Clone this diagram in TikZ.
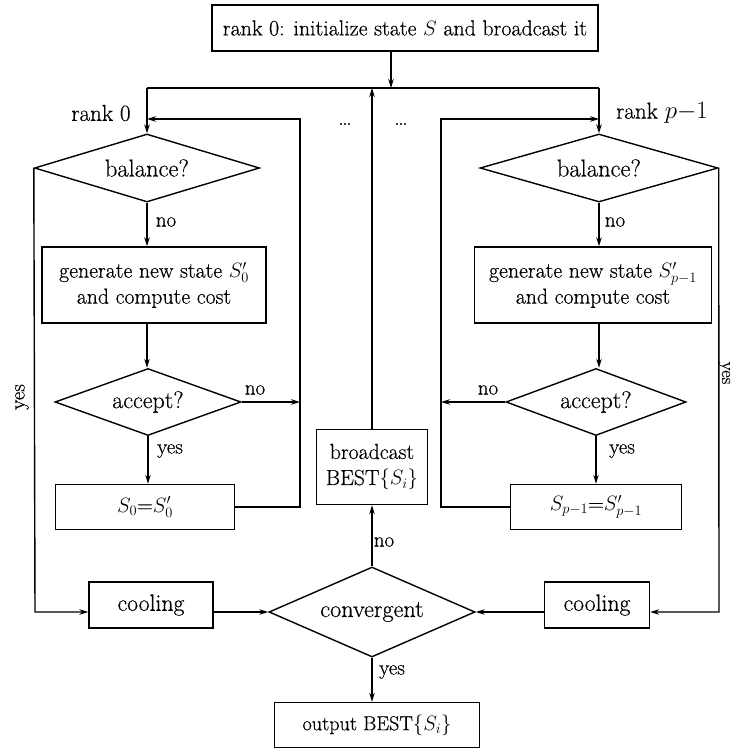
\documentclass[tikz,border=0pt]{standalone}
\usepackage{fontspec}
\setmainfont{Latin Modern Roman}[UprightFeatures={FakeBold=0.45}]
\usetikzlibrary{shapes.geometric,arrows.meta}
\begin{document}
\begin{tikzpicture}[x=1pt,y=-1pt,
  font=\fontsize{21}{25}\selectfont,
  line width=1.4pt,
  box/.style={draw,rectangle,inner sep=0pt,align=center},
  dia/.style={draw,diamond,inner sep=0pt},
  arr/.style={-{Stealth[length=9pt,width=5.5pt]}},
  lbl/.style={inner sep=0pt}]
\useasboundingbox (0,0) rectangle (737,750);
% nodes
\node[box,minimum width=386pt,minimum height=46pt,font=\fontsize{21.9}{26}\selectfont] (top) at (405,28) {rank 0: initialize state $S$ and broadcast it};
\node[dia,shape aspect=3.3,minimum width=225pt,minimum height=68pt,font=\fontsize{24.5}{28}\selectfont] (bal0) at (147,168) {balance?};
\node[dia,shape aspect=3.4,minimum width=238pt,minimum height=68pt,font=\fontsize{24.5}{28}\selectfont] (bal1) at (599,168) {balance?};
\node[box,minimum width=224pt,minimum height=76pt,font=\fontsize{21.8}{26}\selectfont] (gen0) at (154,285) {generate new state $S'_0$\\and compute cost};
\node[box,minimum width=237pt,minimum height=76pt,font=\fontsize{21.8}{26}\selectfont] (gen1) at (593,285) {generate new state $S'_{p-1}$\\and compute cost};
\node[dia,shape aspect=2.8,minimum width=186pt,minimum height=67pt,font=\fontsize{24}{28}\selectfont] (acc0) at (148,402) {accept?};
\node[dia,shape aspect=2.7,minimum width=180pt,minimum height=67pt,font=\fontsize{24}{28}\selectfont] (acc1) at (596,402) {accept?};
\node[box,minimum width=179pt,minimum height=45pt,font=\fontsize{21.8}{25}\selectfont] (s0) at (145,507) {$S_0$=$S'_0$};
\node[box,minimum width=171pt,minimum height=45pt,font=\fontsize{21.8}{25}\selectfont] (s1) at (596,507) {$S_{p-1}$=$S'_{p-1}$};
\node[box,minimum width=111pt,minimum height=75pt,font=\fontsize{21.8}{26}\selectfont] (bc) at (372,467) {broadcast\\BEST$\{S_i\}$};
\node[box,minimum width=124pt,minimum height=46pt,font=\fontsize{23.7}{27}\selectfont] (cool0) at (151,605) {cooling};
\node[dia,shape aspect=2.3,minimum width=206pt,minimum height=90pt,font=\fontsize{24.2}{28}\selectfont] (conv) at (372,612) {convergent};
\node[box,minimum width=105pt,minimum height=46pt,font=\fontsize{23.7}{27}\selectfont] (cool1) at (597,605) {cooling};
\node[box,minimum width=205pt,minimum height=45pt,font=\fontsize{20.2}{24}\selectfont] (out) at (377,725) {output BEST$\{S_i\}$};
% coordinates
\coordinate (busL) at (147,88);
\coordinate (busR) at (599,88);
\coordinate (busM) at (391,88);
\coordinate (busC) at (372,88);
\coordinate (ret0top) at (300,119);
\coordinate (ret0in) at (147,119);
\coordinate (ret1top) at (441,119);
\coordinate (ret1in) at (599,119);
\coordinate (yl) at (35,612);
\coordinate (yr) at (719,612);
% connectors
\draw (busL) -- (busR);
\draw[arr] (top.south -| busM) -- (busM);
\draw[arr] (busL) -- (bal0.north);
\draw[arr] (busR) -- (bal1.north);
\draw[arr] (bc.north) -- (busC);
\draw[arr] (bal0.south) -- (bal0.south |- gen0.north);
\draw[arr] (bal1.south) -- (bal1.south |- gen1.north);
\draw[arr] (bal0.south |- gen0.south) -- (acc0.north -| bal0.south);
\draw[arr] (bal1.south |- gen1.south) -- (acc1.north -| bal1.south);
\draw[arr] (acc0.south) -- (acc0.south |- s0.north);
\draw[arr] (acc1.south) -- (acc1.south |- s1.north);
\draw[arr] (acc0.east) -- (acc0.east -| ret0top);
\draw[arr] (acc1.west) -- (acc1.west -| ret1top);
\draw[arr] (s0.east) -| (ret0top) -- (ret0in);
\draw[arr] (s1.west) -| (ret1top) -- (ret1in);
\draw[arr] (bal0.west) -- (yl) -- (yl -| cool0.west);
\draw[arr] (bal1.east) -- (yr) -- (yr -| cool1.east);
\draw[arr] (cool0.east |- conv) -- (conv.west);
\draw[arr] (cool1.west |- conv) -- (conv.east);
\draw[arr] (conv.north) -- (bc.south);
\draw[arr] (conv.south) -- (conv.south |- out.north);
% labels
\node[lbl,font=\fontsize{23}{27}\selectfont] (t1) at (101,113) {rank 0};
\node[lbl,font=\fontsize{23}{27}\selectfont] (t2) at (662,113) {rank $p{-}1$};
\node[lbl,font=\fontsize{24}{28}\selectfont] (d1) at (345,124) {\dots};
\node[lbl,font=\fontsize{24}{28}\selectfont] (d2) at (401,124) {\dots};
\node[lbl] (n1) at (166,222) {no};
\node[lbl] (n2) at (615,222) {no};
\node[lbl] (n3) at (255,390) {no};
\node[lbl] (n4) at (488,390) {no};
\node[lbl] (y1) at (170,451) {yes};
\node[lbl] (y2) at (622,451) {yes};
\node[lbl] (n5) at (384,542) {no};
\node[lbl] (y3) at (392,672) {yes};
\node[lbl,rotate=90] (y4) at (22,397) {yes};
\node[lbl,rotate=-90,anchor=base,font=\fontsize{18.5}{22}\selectfont] (y5) at (722,373) {yes};
\end{tikzpicture}
\end{document}
